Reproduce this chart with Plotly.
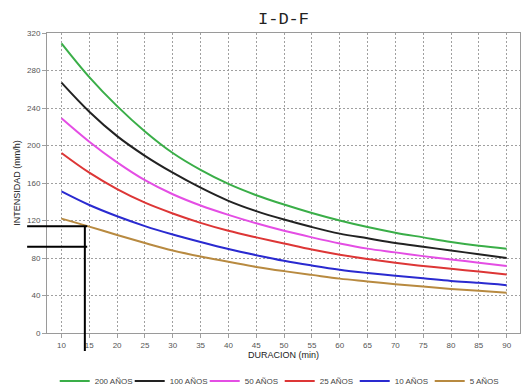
import plotly.graph_objects as go

# Duration axis (minutes)
duracion = list(range(10, 95, 5))

# Rainfall intensity (mm/h) for each return period
i_200 = [309, 273, 242, 215, 192, 174, 159, 147, 137, 128, 120, 113, 107, 102, 97, 93, 90]
i_100 = [267, 236, 210, 189, 171, 155, 141, 130, 121, 113, 106, 101, 96, 92, 88, 84, 80]
i_50 = [229, 204, 182, 163, 148, 136, 126, 117, 109, 102, 95.5, 90, 86, 82, 78.5, 75, 71.5]
i_25 = [192, 171, 153.5, 139, 127.5, 117.5, 109, 102, 95.5, 89, 83.5, 79, 75, 71.5, 68.5, 65.5, 62.5]
i_10 = [151, 136.5, 124.5, 114, 105, 97, 89.5, 83, 77, 72, 67.5, 64, 61, 58.3, 55.5, 53.5, 51]
i_5 = [122, 113.5, 104.5, 96, 88, 81.5, 76, 70.5, 66, 62, 58, 55, 52, 49.5, 47, 45, 43]

series_names = ["200 AÑOS", "100 AÑOS", "50 AÑOS", "25 AÑOS", "10 AÑOS", "5 AÑOS"]
series_values = [i_200, i_100, i_50, i_25, i_10, i_5]
series_colors = ["#3aae48", "#222222", "#e44ee4", "#dd3636", "#2a2ad0", "#b88a40"]

x_ticks = list(range(10, 95, 5))
y_ticks = [0, 40, 80, 120, 160, 200, 240, 280, 320]

# Reading guide: duration and the two intensities marked on the chart
marca_duracion = 14.2
marca_intensidades = [114, 92]

X_RANGE = [7.4, 92.4]
Y_RANGE = [0, 320]

fig = go.Figure()
for name, vals, col in zip(series_names, series_values, series_colors):
    fig.add_trace(go.Scatter(
        x=duracion, y=vals, mode="lines", name=name,
        line=dict(color=col, width=2, shape="spline"),
    ))


def xdom(v):
    return (v - X_RANGE[0]) / (X_RANGE[1] - X_RANGE[0])


def ydom(v):
    return (v - Y_RANGE[0]) / (Y_RANGE[1] - Y_RANGE[0])


guide = dict(color="black", width=2)
# vertical guide down through the axis labels
fig.add_shape(type="line", xref="x domain", yref="y domain",
              x0=xdom(marca_duracion), x1=xdom(marca_duracion),
              y0=ydom(marca_intensidades[0]), y1=-0.06, line=guide)
# horizontal guides reaching out past the intensity axis
for v in marca_intensidades:
    fig.add_shape(type="line", xref="x domain", yref="y domain",
                  x0=-0.042, x1=xdom(marca_duracion) + 0.005,
                  y0=ydom(v), y1=ydom(v), line=guide)

axis_common = dict(
    showline=True, linecolor="#9a9a9a", linewidth=1, mirror=True,
    showgrid=True, gridcolor="#a0a0a0", gridwidth=1, griddash="2px,2px",
    ticks="outside", ticklen=4, tickcolor="#a0a0a0",
    tickfont=dict(family="Liberation Sans, Arial", size=8, color="#555555"),
    zeroline=False, automargin=False,
)

fig.update_layout(
    width=522, height=392,
    margin=dict(l=47, r=2, t=33, b=59, autoexpand=False),
    paper_bgcolor="white", plot_bgcolor="white",
    title=dict(text="I-D-F", x=0.5, xref="paper", y=0.955, yanchor="middle",
               font=dict(family="Liberation Mono, Courier New", size=17, color="#222222")),
    xaxis=dict(range=X_RANGE, tickvals=x_ticks,
               title=dict(text="DURACION (min)", standoff=1,
                          font=dict(family="Liberation Sans, Arial", size=9, color="#222222")),
               **axis_common),
    yaxis=dict(range=Y_RANGE, tickvals=y_ticks,
               title=dict(text="INTENSIDAD (mm/h)", standoff=4,
                          font=dict(family="Liberation Sans, Arial", size=9, color="#222222")),
               **axis_common),
    showlegend=True,
    legend=dict(orientation="h", x=0.492, xanchor="center",
                yref="container", y=0.028, yanchor="middle",
                font=dict(family="Liberation Sans, Arial", size=8, color="#444444"),
                entrywidth=30, entrywidthmode="pixels", bgcolor="rgba(0,0,0,0)"),
)

fig.write_html("out.html")
